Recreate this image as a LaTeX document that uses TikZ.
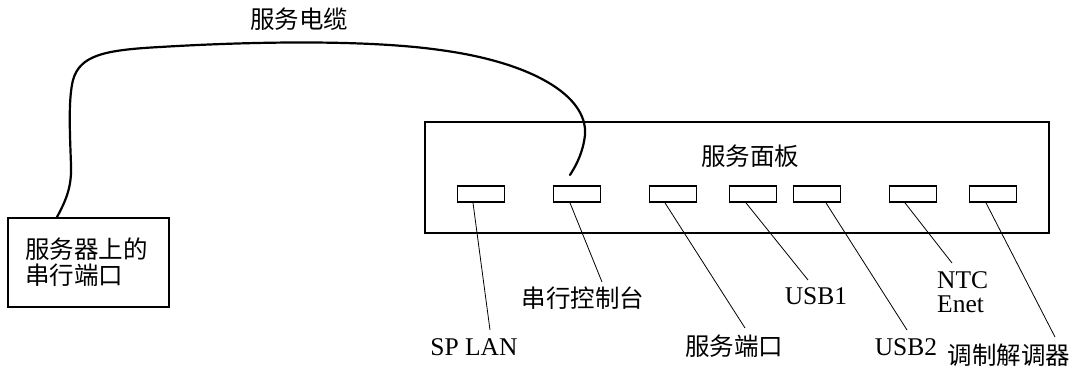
\documentclass[tikz,border=0pt]{standalone}
\usepackage{fontspec}
\setmainfont{Liberation Serif}
\newfontfamily\cjk{Noto Sans CJK SC}
\begin{document}
\begin{tikzpicture}[x=1pt,y=-1pt,
  box/.style={draw,line width=1.8pt,inner sep=0pt},
  portbox/.style={draw,line width=1.8pt,minimum width=47pt,minimum height=16pt,inner sep=0pt},
  lead/.style={line width=0.8pt},
  cable/.style={line width=2.2pt,line cap=round},
  cn/.style={font=\cjk\fontsize{24.5}{28}\selectfont,inner sep=0pt},
  ln/.style={font=\fontsize{25.5}{29}\selectfont,inner sep=0pt}]
\useasboundingbox (0,0) rectangle (1078,367);
% boxes
\node[box,minimum width=161pt,minimum height=89pt] (srv) at (88.5,262.5) {};
\node[box,minimum width=624pt,minimum height=111pt] (panel) at (737,177.5) {};
\node[cn,anchor=west] (srvt1) at (25,249) {服务器上的};
\node[cn,anchor=west] (srvt2) at (25,275) {串行端口};
\node[cn] (ptitle) at (750,156) {服务面板};
\node[cn] (ctitle) at (299,19) {服务电缆};
% ports
\node[portbox] (p1) at (481,194) {};
\node[portbox] (p2) at (577,194) {};
\node[portbox] (p3) at (673,194) {};
\node[portbox] (p4) at (753,194) {};
\node[portbox] (p5) at (817,194) {};
\node[portbox] (p6) at (913,194) {};
\node[portbox] (p7) at (993,194) {};
% labels
\node[ln,anchor=base] (l1) at (474,355) {SP LAN};
\node[cn] (l2) at (583,298) {串行控制台};
\node[cn] (l3) at (734,346) {服务端口};
\node[ln,anchor=base] (l4) at (816,304) {USB1};
\node[ln,anchor=base] (l5) at (906,355) {USB2};
\node[ln,anchor=base west] (l6) at (937,288) {NTC};
\node[ln,anchor=base west] (l6b) at (937,312) {Enet};
\node[cn] (l7) at (1009,355) {调制解调器};
% leaders
\coordinate (e1) at (490,330);
\coordinate (e2) at (602,282);
\coordinate (e3) at (745,328);
\coordinate (e4) at (808,280);
\coordinate (e5) at (907,330);
\coordinate (e6) at (952,263);
\coordinate (e7) at (1055,337);
\draw[lead] (p1.south -| 473,0) -- (e1);
\draw[lead] (p2.south -| 570,0) -- (e2);
\draw[lead] (p3.south -| 665,0) -- (e3);
\draw[lead] (p4.south -| 746,0) -- (e4);
\draw[lead] (p5.south -| 826,0) -- (e5);
\draw[lead] (p6.south -| 905,0) -- (e6);
\draw[lead] (p7.south -| 986,0) -- (e7);
% cable
\coordinate (cs) at (srv.north west -| 57,0);
\coordinate (ce) at (570,175);
\draw[cable] (cs) .. controls (65,202) and (72,188) .. (71,165)
  .. controls (70,135) and (68,100) .. (73,80)
  .. controls (80,55) and (105,50) .. (160,47)
  .. controls (260,41) and (370,40) .. (440,50)
  .. controls (530,62) and (588,95) .. (585,135)
  .. controls (583,152) and (577,164) .. (ce);
\end{tikzpicture}
\end{document}
